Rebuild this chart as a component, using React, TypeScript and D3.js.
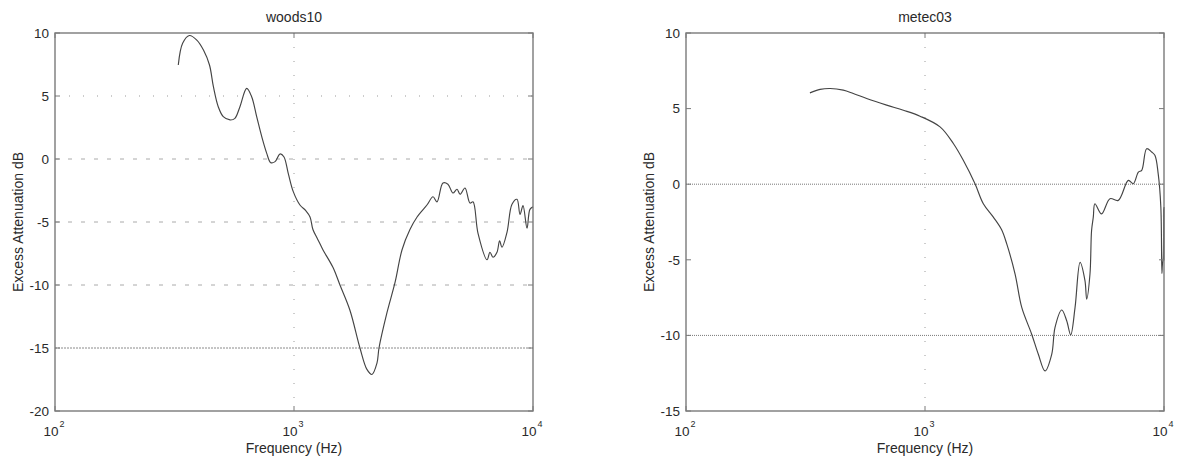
import * as d3 from 'd3'

// woods10 curve (Hz, dB)
const woodsFreq = [328, 342, 365, 392, 418, 443, 460, 482, 506, 540, 566, 594, 634, 665, 698, 733, 769, 799, 833, 874, 907, 946, 993, 1059, 1120, 1167, 1200, 1259, 1321, 1455, 1557, 1714, 1888, 2019, 2119, 2224, 2268, 2449, 2647, 2832, 3056, 3273, 3600, 3816, 3966, 4200, 4406, 4625, 4808, 4953, 5192, 5448, 5610, 5888, 6423, 6607, 6800, 7068, 7250, 7420, 7788, 8168, 8570, 8825, 9083, 9441, 9708, 10000]
const woodsDb = [7.46, 9.18, 9.8, 9.44, 8.65, 7.46, 5.74, 4.15, 3.36, 3.1, 3.23, 4.15, 5.6, 4.94, 3.36, 1.77, 0.45, -0.29, -0.21, 0.4, 0.18, -1.14, -2.59, -3.65, -4.1, -4.6, -5.6, -6.4, -7.2, -8.6, -10, -12, -15, -16.7, -17.1, -16.2, -15, -12.2, -9.8, -7.2, -5.6, -4.6, -3.65, -3.0, -3.4, -1.9, -2.0, -2.7, -2.4, -2.8, -2.3, -3.5, -3.4, -5.9, -8.0, -7.4, -7.8, -7.4, -6.5, -7.0, -5.8, -3.6, -3.2, -4.4, -3.7, -5.5, -4.0, -3.8]

// metec03 curve (Hz, dB)
const metecFreq = [330, 364, 401, 455, 501, 570, 691, 812, 953, 1156, 1314, 1446, 1619, 1754, 1932, 2090, 2198, 2382, 2540, 2795, 2980, 3178, 3390, 3500, 3733, 3916, 4071, 4245, 4455, 4670, 4748, 4901, 4977, 5060, 5140, 5480, 5943, 6437, 7093, 7442, 7812, 8068, 8462, 8877, 9161, 9455, 9700, 9800, 9850, 9920, 9960, 9990, 10000]
const metecDb = [6.04, 6.27, 6.33, 6.22, 6.0, 5.67, 5.23, 4.89, 4.5, 3.79, 2.69, 1.58, 0.03, -1.29, -2.18, -3.0, -3.95, -5.94, -8.15, -9.92, -11.25, -12.35, -11.25, -9.47, -8.32, -9.03, -9.96, -8.15, -5.17, -6.38, -7.6, -5.94, -3.06, -2.18, -1.29, -1.96, -0.96, -1.07, 0.25, 0.03, 0.8, 0.92, 2.35, 2.13, 1.91, 0.7, -1.5, -5.9, -5.3, -5.0, -1.6, -5.0, -1.5]

const xTickExps = [2, 3, 4]
const woodsYTicks = [10, 5, 0, -5, -10, -15, -20]
const metecYTicks = [10, 5, 0, -5, -10, -15]

const FONT = "'Liberation Sans', Arial, sans-serif"

interface GridLine {
  value: number
  dash: string
  color: string
}

interface PanelProps {
  title: string
  left: number
  freq: number[]
  db: number[]
  yDomain: [number, number]
  yTicks: number[]
  hGrid: GridLine[]
  vDash: string
}

function Panel({ title, left, freq, db, yDomain, yTicks, hGrid, vDash }: PanelProps) {
  const top = 33
  const width = 478
  const height = 378
  const x = d3.scaleLog().domain([100, 10000]).range([0, width])
  const y = d3.scaleLinear().domain(yDomain).range([height, 0])

  const points = freq.map((f, i) => [f, db[i]] as [number, number])
  const line = d3.line<[number, number]>()
    .x(d => x(d[0]))
    .y(d => y(d[1]))
    .curve(d3.curveCatmullRom.alpha(0.5))

  const axisColor = '#7a7a7a'
  const textColor = '#2a2a2a'

  return (
    <g transform={`translate(${left},${top})`}>
      {/* grid */}
      {hGrid.map(g => (
        <line key={g.value} x1={0} x2={width} y1={y(g.value)} y2={y(g.value)}
          stroke={g.color} strokeWidth={1} strokeDasharray={g.dash} />
      ))}
      <line x1={x(1000)} x2={x(1000)} y1={0} y2={height} stroke="#9a9a9a" strokeWidth={1} strokeDasharray={vDash} />

      {/* curve */}
      <path d={line(points) ?? ''} fill="none" stroke="#444" strokeWidth={1.15} />

      {/* box */}
      <rect x={0} y={0} width={width} height={height} fill="none" stroke={axisColor} strokeWidth={1.4} />

      {/* y ticks */}
      {yTicks.map(t => (
        <g key={t}>
          <line x1={0} x2={5} y1={y(t)} y2={y(t)} stroke={axisColor} />
          <line x1={width - 5} x2={width} y1={y(t)} y2={y(t)} stroke={axisColor} />
          <text x={-6} y={y(t)} dy="0.36em" textAnchor="end" fontSize={13.5} fill={textColor} fontFamily={FONT}>{t}</text>
        </g>
      ))}

      {/* x ticks */}
      {xTickExps.map(e => {
        const px = x(Math.pow(10, e))
        return (
          <g key={e}>
            <line x1={px} x2={px} y1={height} y2={height - 5} stroke={axisColor} />
            <line x1={px} x2={px} y1={0} y2={5} stroke={axisColor} />
            <text x={px - 4} y={height + 25} textAnchor="middle" fontSize={13.5} fill={textColor} fontFamily={FONT}>10</text>
            <text x={px + 7} y={height + 16} textAnchor="middle" fontSize={9} fill={textColor} fontFamily={FONT}>{e}</text>
          </g>
        )
      })}

      {/* labels */}
      <text x={width / 2} y={-11} textAnchor="middle" fontSize={14} fill={textColor} fontFamily={FONT}>{title}</text>
      <text x={width / 2} y={height + 42} textAnchor="middle" fontSize={14} fill={textColor} fontFamily={FONT}>Frequency (Hz)</text>
      <text transform={`translate(${-32},${height / 2}) rotate(-90)`} textAnchor="middle" fontSize={14} fill={textColor} fontFamily={FONT}>Excess Attenuation dB</text>
    </g>
  )
}

export default function App() {
  return (
    <div style={{ position: 'absolute', left: 0, top: 0, width: 1177, height: 461, background: '#fff' }}>
      <svg width={1177} height={461} style={{ display: 'block' }}>
        <Panel
          title="woods10"
          left={55}
          freq={woodsFreq}
          db={woodsDb}
          yDomain={[-20, 10]}
          yTicks={woodsYTicks}
          hGrid={[
            { value: 5, dash: '1,13', color: '#999' },
            { value: 0, dash: '4,9', color: '#aaa' },
            { value: -5, dash: '4,9', color: '#aaa' },
            { value: -10, dash: '4,9', color: '#aaa' },
            { value: -15, dash: '2,1', color: '#8a8a8a' },
          ]}
          vDash="1,13"
        />
        <Panel
          title="metec03"
          left={686}
          freq={metecFreq}
          db={metecDb}
          yDomain={[-15, 10]}
          yTicks={metecYTicks}
          hGrid={[
            { value: 0, dash: '1,1', color: '#777' },
            { value: -10, dash: '1,1', color: '#777' },
          ]}
          vDash="1,13"
        />
      </svg>
    </div>
  )
}
